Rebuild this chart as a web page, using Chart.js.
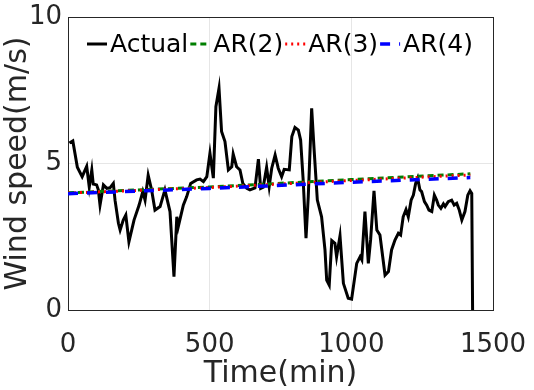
<!DOCTYPE html>
<html><head><meta charset="utf-8">
<script src="https://cdn.jsdelivr.net/npm/chart.js@4/dist/chart.umd.min.js"></script>
<style>html,body{margin:0;padding:0;background:#fff}#wrap{width:534px;height:390px}</style>
</head><body><div id="wrap"><canvas id="c" width="534" height="390"></canvas></div>
<script>
const timeMin = [5,17,33,50,66,75,84,89,101,107,113,125,137,148,160,166,178,184,195,204,215,233,251,264,272,283,295,307,325,342,360,374,384,389,407,419,433,454,466,478,490,501,513,522,533,542,554,566,578,583,595,607,617,631,642,660,672,680,689,701,710,719,731,742,754,763,781,790,801,813,821,830,840,848,860,868,880,895,907,913,922,931,942,948,960,972,989,1001,1019,1031,1037,1048,1060,1068,1080,1090,1101,1119,1131,1142,1154,1166,1174,1183,1193,1201,1211,1219,1227,1234,1242,1248,1258,1266,1274,1284,1293,1301,1307,1316,1325,1331,1342,1354,1363,1372,1381,1390,1401,1411,1419,1425,1428];
const actualSpeed = [5.7,5.77,4.87,4.55,4.9,4.2,4.78,4.3,4.27,4.1,3.58,4.27,4.15,4.17,4.32,3.75,2.96,2.73,3.07,3.24,2.33,3.07,3.58,4.04,3.75,4.6,4.1,3.41,3.53,4.1,3.36,1.14,3.18,2.84,3.58,3.87,4.32,4.44,4.47,4.38,4.55,5.35,4.5,6.94,7.57,6.09,5.75,4.78,4.89,5.32,4.89,4.78,4.32,4.15,4.1,4.17,5.15,4.15,4.19,4.87,4.21,4.84,5.29,4.84,4.55,4.8,4.78,5.92,6.23,6.14,5.8,4.44,2.45,3.87,6.88,5.57,3.75,3.18,2.05,1.02,0.85,2.37,2.28,1.82,2.53,0.91,0.4,0.37,1.59,1.82,1.71,3.36,1.59,2.39,4.07,2.73,2.56,1.19,1.31,2.05,2.39,2.62,2.56,3.18,3.43,3.18,3.75,3.92,4.32,4.5,4.1,4.04,3.7,3.58,3.41,3.36,3.92,3.75,3.58,3.47,3.62,3.53,3.7,3.75,3.58,3.64,3.41,3.07,3.36,3.92,4.07,3.98,0];
const arTime = [0, 500, 1000, 1420];
const ar2Speed = [4.0, 4.2, 4.45, 4.65];
const ar3Speed = [3.99, 4.18, 4.42, 4.61];
const ar4Speed = [3.97, 4.15, 4.36, 4.52];
const xTicks = [0, 500, 1000, 1500];
const yTicks = [0, 5, 10];
const seriesNames = ['Actual', 'AR(2)', 'AR(3)', 'AR(4)'];

const pts = (xs, ys) => xs.map((x, i) => ({x: x, y: ys[i]}));
const FONT = 'DejaVu Sans';
const AXC = '#262626';

const legendInside = {
  id: 'legendInside',
  afterDraw(chart) {
    const ctx = chart.ctx;
    const y = 44;
    let x = 87;
    ctx.save();
    ctx.font = '25px "' + FONT + '"';
    ctx.textBaseline = 'middle';
    chart.data.datasets.forEach((ds) => {
      ctx.save();
      ctx.strokeStyle = ds.borderColor;
      ctx.lineWidth = ds.borderWidth;
      ctx.setLineDash(ds.borderDash || []);
      ctx.beginPath(); ctx.moveTo(x, y); ctx.lineTo(x + 20, y); ctx.stroke();
      ctx.restore();
      ctx.fillStyle = '#000';
      ctx.fillText(ds.label, x + 23, y + 1);
      x += 23 + ctx.measureText(ds.label).width + 2;
    });
    ctx.restore();
  }
};

new Chart(document.getElementById('c'), {
  type: 'line',
  data: {
    datasets: [
      {label: seriesNames[0], data: pts(timeMin, actualSpeed), borderColor: '#000000', borderWidth: 3, pointRadius: 0, tension: 0, order: 4},
      {label: seriesNames[1], data: pts(arTime, ar2Speed), borderColor: '#007f00', borderWidth: 3, borderDash: [6, 4], pointRadius: 0, order: 3},
      {label: seriesNames[2], data: pts(arTime, ar3Speed), borderColor: '#ff0000', borderWidth: 3, borderDash: [2, 4], pointRadius: 0, order: 2},
      {label: seriesNames[3], data: pts(arTime, ar4Speed), borderColor: '#0000ff', borderWidth: 3.5, borderDash: [10, 9], pointRadius: 0, order: 1}
    ]
  },
  options: {
    responsive: false, animation: false, devicePixelRatio: 1,
    layout: {padding: {left: 0, right: 41, top: 17, bottom: 0}},
    plugins: {legend: {display: false}, tooltip: {enabled: false}},
    scales: {
      x: {
        type: 'linear', min: 0, max: 1500,
        afterBuildTicks: (s) => { s.ticks = xTicks.map(v => ({value: v})); },
        afterFit: (s) => { s.height = 80; s.paddingLeft = 0; s.paddingRight = 0; },
        grid: {color: '#e6e6e6', lineWidth: 1, drawTicks: false},
        border: {color: AXC, width: 1},
        ticks: {color: AXC, font: {family: FONT, size: 26}, padding: 20, maxRotation: 0, callback: (v) => String(v)},
        title: {display: true, text: 'Time(min)', color: AXC, font: {family: FONT, size: 30}, padding: {top: 0, bottom: -2}}
      },
      y: {
        type: 'linear', min: 0, max: 10,
        afterBuildTicks: (s) => { s.ticks = yTicks.map(v => ({value: v})); },
        afterFit: (s) => { s.width = 68; s.paddingTop = 0; s.paddingBottom = 0; },
        grid: {color: '#e6e6e6', lineWidth: 1, drawTicks: false},
        border: {color: AXC, width: 1},
        ticks: {color: AXC, font: {family: FONT, size: 26}, padding: 6, callback: (v) => String(v)},
        title: {display: true, text: 'Wind speed(m/s)', color: AXC, font: {family: FONT, size: 30}, padding: {top: 0, bottom: 0}}
      },
      x2: {
        type: 'linear', position: 'top', min: 0, max: 1500,
        afterFit: (s) => { s.height = 0; s.paddingLeft = 0; s.paddingRight = 0; },
        grid: {display: false, drawTicks: false}, ticks: {display: false},
        border: {display: true, color: AXC, width: 1}
      },
      y2: {
        type: 'linear', position: 'right', min: 0, max: 10,
        afterFit: (s) => { s.width = 0; s.paddingTop = 0; s.paddingBottom = 0; },
        grid: {display: false, drawTicks: false}, ticks: {display: false},
        border: {display: true, color: AXC, width: 1}
      }
    }
  },
  plugins: [legendInside]
});
</script>
</body></html>
